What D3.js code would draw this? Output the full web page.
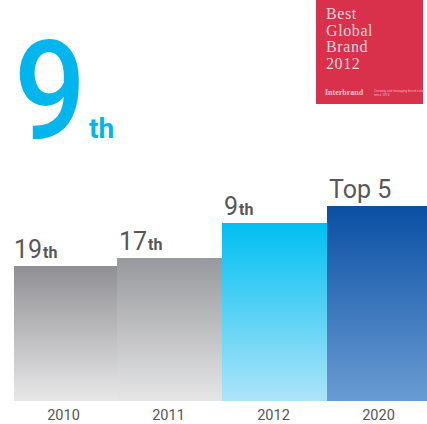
<!DOCTYPE html>
<html>
<head>
<meta charset="utf-8">
<script src="https://cdn.jsdelivr.net/npm/d3@7/dist/d3.min.js"></script>
<style>
  html, body { margin: 0; padding: 0; background: #fff; }
  svg { display: block; }
</style>
</head>
<body>
<script>
// ---- data ----
const years = ["2010", "2011", "2012", "2020"];
const barLevels = [135, 143, 178, 195];          // visual bar heights (relative level)
const rankMain = ["19", "17", "9", "Top 5"];
const rankSuffix = ["th", "th", "th", ""];
const gradTop = ["#909094", "#98999c", "#00bff2", "#0a4fa3"];
const gradBottom = ["#e8e8e9", "#e6e6e7", "#aee4f9", "#6a9cd3"];
const headlineRank = "9";
const headlineSuffix = "th";
const badgeLines = ["Best", "Global", "Brand", "2012"];

const W = 427, H = 424;
const svg = d3.select("body").append("svg").attr("width", W).attr("height", H);
const defs = svg.append("defs");

const x = d3.scaleBand().domain(years).range([12, 432]).padding(0);
const y = d3.scaleLinear().domain([0, 195]).range([401, 206]);

years.forEach((yr, i) => {
  const g = defs.append("linearGradient").attr("id", "g" + i)
    .attr("x1", 0).attr("y1", 0).attr("x2", 0).attr("y2", 1);
  g.append("stop").attr("offset", 0).attr("stop-color", gradTop[i]);
  g.append("stop").attr("offset", 1).attr("stop-color", gradBottom[i]);
});

// bars
svg.append("g").selectAll("rect").data(years).join("rect")
  .attr("x", (d, i) => i === 0 ? x(d) + 2 : x(d))
  .attr("y", (d, i) => y(barLevels[i]))
  .attr("width", (d, i) => (i === 0 ? x.bandwidth() - 2 : x.bandwidth()) + 0.5)
  .attr("height", (d, i) => y(0) - y(barLevels[i]))
  .attr("fill", (d, i) => `url(#g${i})`);

// rank labels
const lab = svg.append("g").selectAll("text").data(years).join("text")
  .attr("x", (d, i) => x(d) + (i === 0 ? 2 : 2))
  .attr("y", (d, i) => y(barLevels[i]) - 8)
  .attr("font-family", "Roboto, sans-serif")
  .attr("fill", "#57575b");
lab.append("tspan").attr("font-size", 25).text((d, i) => rankMain[i]);
lab.append("tspan").attr("font-size", 16).attr("font-weight", 700)
  .attr("dx", 1).text((d, i) => rankSuffix[i]);

// x axis
const ax = svg.append("g").attr("transform", `translate(-1,${y(0)})`)
  .call(d3.axisBottom(x).tickSize(0).tickPadding(9));
ax.select(".domain").remove();
ax.selectAll("text").attr("font-family", "Roboto, sans-serif")
  .attr("font-size", 14.5).attr("fill", "#555559");

// headline 9th
svg.append("text").attr("x", 14).attr("y", 138)
  .attr("font-family", "Roboto, sans-serif").attr("fill", "#00b6ec")
  .attr("font-size", 138).attr("font-weight", 500)
  .attr("transform", "translate(14,0) scale(0.92,1) translate(-14,0)")
  .text(headlineRank);
svg.append("text").attr("x", 89).attr("y", 138)
  .attr("font-family", "Roboto, sans-serif").attr("fill", "#00b6ec")
  .attr("font-size", 28).attr("font-weight", 700).text(headlineSuffix);

// badge
const bx = 316, by = 0, bw = 107, bh = 104;
svg.append("rect").attr("x", bx).attr("y", by).attr("width", bw).attr("height", bh)
  .attr("fill", "#d9304c");
svg.append("g").selectAll("text").data(badgeLines).join("text")
  .attr("x", bx + 10)
  .attr("y", (d, i) => 19 + i * 16.5)
  .attr("font-family", "'Liberation Serif', serif")
  .attr("font-size", 16)
  .attr("letter-spacing", 0.6)
  .attr("fill", "#f7d3d9")
  .text(d => d);
svg.append("text").attr("x", bx + 9).attr("y", 95)
  .attr("font-family", "'Liberation Serif', serif").attr("font-size", 8)
  .attr("font-weight", 700).attr("fill", "#f3c0c8").text("Interbrand");
svg.append("text").attr("x", bx + 58).attr("y", 92)
  .attr("font-family", "'Liberation Sans', sans-serif").attr("font-size", 3.2)
  .attr("fill", "#f0b6c0").text("Creating and managing brand value");
svg.append("text").attr("x", bx + 58).attr("y", 96)
  .attr("font-family", "'Liberation Sans', sans-serif").attr("font-size", 3.2)
  .attr("fill", "#f0b6c0").text("since 1974");
</script>
</body>
</html>
